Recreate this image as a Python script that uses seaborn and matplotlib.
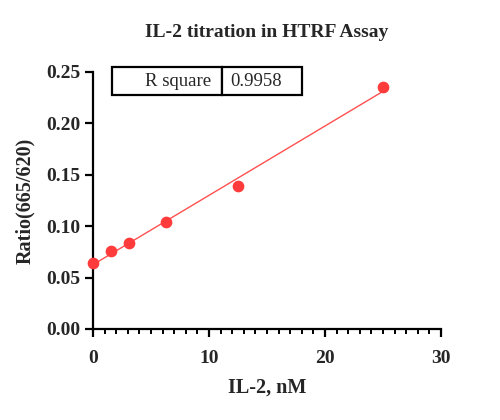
import numpy as np
import pandas as pd
import matplotlib
matplotlib.use("Agg")
import matplotlib.pyplot as plt
import seaborn as sns
from matplotlib.ticker import MultipleLocator

# IL-2 concentration (nM) and HTRF ratio readings
conc = [0, 1.5625, 3.125, 6.25, 12.5, 25]
ratio = [0.064, 0.076, 0.084, 0.104, 0.139, 0.235]
r_square = "0.9958"

sns.set_style("ticks")
plt.rcParams["font.family"] = ["Liberation Serif", "DejaVu Serif"]
plt.rcParams["font.weight"] = "bold"


def main():
    df = pd.DataFrame({"IL-2": conc, "Ratio": ratio})

    fig = plt.figure(figsize=(5, 4.2), dpi=100)
    ax = fig.add_axes([0.186, 0.2167, 0.696, 0.612])

    sns.regplot(x="IL-2", y="Ratio", data=df, ci=None, ax=ax,
                color="#ff3b3b",
                scatter_kws={"s": 55, "alpha": 1, "zorder": 3, "clip_on": False},
                line_kws={"lw": 1.0, "color": "#ff5050"})

    ax.set_xlim(0, 30)
    ax.set_ylim(0, 0.25)
    ax.xaxis.set_major_locator(MultipleLocator(10))
    ax.xaxis.set_minor_locator(MultipleLocator(1))
    ax.yaxis.set_major_locator(MultipleLocator(0.05))
    ax.yaxis.set_major_formatter(matplotlib.ticker.FormatStrFormatter("%.2f"))

    for s in ["top", "right"]:
        ax.spines[s].set_visible(False)
    for s in ["left", "bottom"]:
        ax.spines[s].set_linewidth(1.6)
        ax.spines[s].set_color("black")
    ax.tick_params(which="major", length=6, width=1.6, labelsize=14, color="black")
    ax.tick_params(axis="x", which="major", pad=9)
    ax.tick_params(axis="y", which="major", pad=3)
    ax.tick_params(which="minor", length=3.5, width=1.4, color="black")

    ax.set_xlabel("IL-2, nM", fontsize=14.5, fontweight="bold", labelpad=8)
    ax.set_ylabel("Ratio(665/620)", fontsize=14.5, fontweight="bold", labelpad=8)
    ax.set_title("IL-2 titration in HTRF Assay", fontsize=14, fontweight="bold", pad=25)

    tbl = ax.table(cellText=[["R square", r_square]], colWidths=[0.58, 0.42],
                   cellLoc="right", bbox=[0.055, 0.91, 0.546, 0.109])
    tbl.auto_set_font_size(False)
    for (r, c), cell in tbl.get_celld().items():
        cell.set_linewidth(1.6)
        cell.get_text().set_fontsize(13.5)
        cell.get_text().set_fontweight("normal")
        if c == 1:
            cell.get_text().set_ha("left")
            cell._loc = "left"
    tbl.set_clip_on(False)

    plt.savefig("out.png", dpi=100)


if __name__ == "__main__":
    main()
